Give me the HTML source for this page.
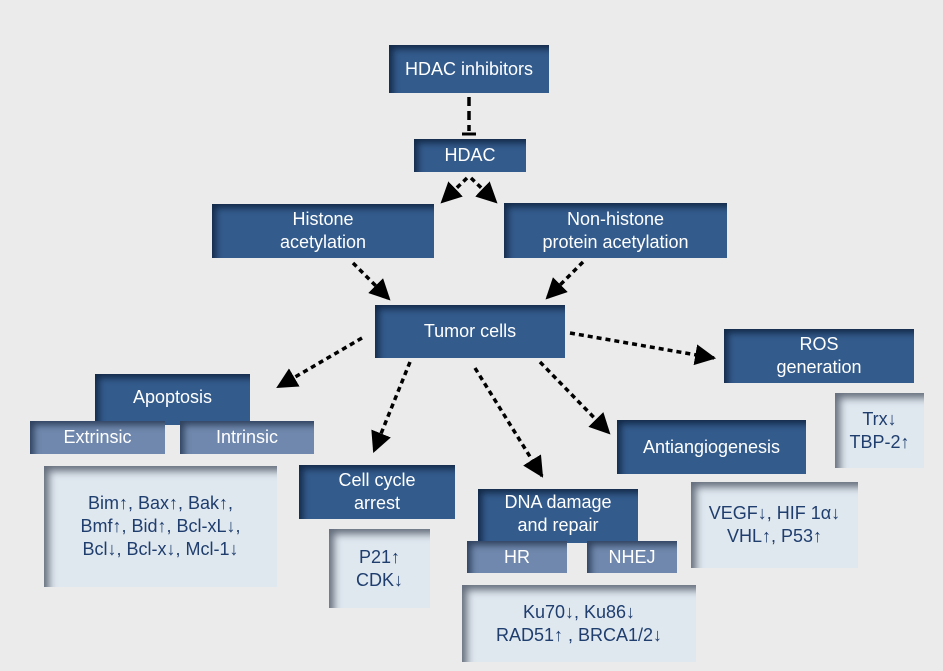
<!DOCTYPE html>
<html><head><meta charset="utf-8"><style>
body{margin:0;width:943px;height:671px;background:#ebebec;position:relative;overflow:hidden;font-family:"Liberation Sans",sans-serif}
.b{position:absolute;background:#335b8c;color:#fff;font-size:18px;line-height:23px;display:flex;align-items:center;justify-content:center;text-align:center;box-shadow:inset 6px 6px 7px -2px rgba(10,25,50,.75)}
.s{position:absolute;background:#7088ad;color:#fff;font-size:18px;display:flex;align-items:center;justify-content:center;box-shadow:inset 6px 6px 7px -2px rgba(20,35,60,.7)}
.l{position:absolute;background:#dfe7ef;color:#1f3e6e;font-size:18px;line-height:23px;display:flex;align-items:center;justify-content:center;text-align:center;box-shadow:inset 8px 8px 8px -3px rgba(60,70,85,.75)}
svg{position:absolute;left:0;top:0}
</style></head><body>
<div class="b" style="left:389px;top:45px;width:160px;height:48px">HDAC inhibitors</div>
<div class="b" style="left:414px;top:139px;width:112px;height:33px">HDAC</div>
<div class="b" style="left:212px;top:204px;width:222px;height:54px">Histone<br>acetylation</div>
<div class="b" style="left:504px;top:203px;width:223px;height:55px">Non-histone<br>protein acetylation</div>
<div class="b" style="left:375px;top:305px;width:190px;height:53px">Tumor cells</div>
<div class="b" style="left:724px;top:329px;width:190px;height:54px">ROS<br>generation</div>
<div class="l" style="left:835px;top:393px;width:89px;height:75px">Trx↓<br>TBP-2↑</div>
<div class="b" style="left:95px;top:374px;width:155px;height:51px;padding-bottom:4px;box-sizing:border-box">Apoptosis</div>
<div class="s" style="left:30px;top:421px;width:135px;height:33px">Extrinsic</div>
<div class="s" style="left:180px;top:421px;width:134px;height:33px">Intrinsic</div>
<div class="l" style="left:44px;top:466px;width:233px;height:121px">Bim↑, Bax↑, Bak↑,<br>Bmf↑, Bid↑, Bcl-xL↓,<br>Bcl↓, Bcl-x↓, Mcl-1↓</div>
<div class="b" style="left:299px;top:465px;width:156px;height:54px">Cell cycle<br>arrest</div>
<div class="l" style="left:329px;top:529px;width:101px;height:79px">P21↑<br>CDK↓</div>
<div class="b" style="left:478px;top:489px;width:160px;height:54px;padding-bottom:4px;box-sizing:border-box">DNA damage<br>and repair</div>
<div class="s" style="left:467px;top:541px;width:100px;height:32px">HR</div>
<div class="s" style="left:587px;top:541px;width:90px;height:32px">NHEJ</div>
<div class="l" style="left:462px;top:585px;width:234px;height:77px">Ku70↓, Ku86↓<br>RAD51↑ , BRCA1/2↓</div>
<div class="b" style="left:617px;top:420px;width:189px;height:54px">Antiangiogenesis</div>
<div class="l" style="left:691px;top:482px;width:167px;height:86px">VEGF↓, HIF 1α↓<br>VHL↑, P53↑</div>
<svg width="943" height="671">
<defs><marker id="a" viewBox="0 0 10 10" refX="9" refY="5" markerWidth="6" markerHeight="6" orient="auto"><path d="M0,0L10,5L0,10z" fill="#000"/></marker></defs>
<g stroke="#000" stroke-width="3.5" fill="none" stroke-dasharray="5,4" marker-end="url(#a)">
<path d="M467,178L442,202"/>
<path d="M471,178L496,202"/>
<path d="M353,263L389,299"/>
<path d="M583,262L547,298"/>
<path d="M362,338L278,387"/>
<path d="M410,362L374,451"/>
<path d="M475,368L542,476"/>
<path d="M540,362L609,433"/>
<path d="M570,333L714,358"/>
</g>
<path d="M469,97V131" stroke="#000" stroke-width="3.5" stroke-dasharray="9,5"/>
<path d="M462,134H476" stroke="#000" stroke-width="3"/>
</svg>
</body></html>
